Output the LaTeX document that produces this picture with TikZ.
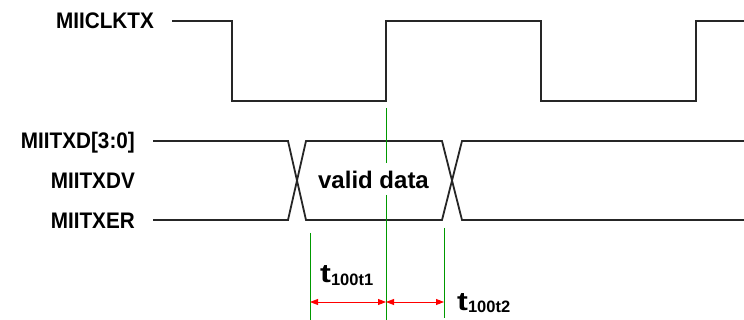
\documentclass[tikz,border=0pt]{standalone}
\usepackage{fontspec}
\setmainfont{Liberation Sans}
\usetikzlibrary{arrows.meta}
\tikzset{
  sig/.style={line width=1.8pt, draw=black!85, line join=miter},
  mark line/.style={line width=0.9pt, draw=green!60!black},
  dim/.style={line width=0.9pt, draw=red, {Triangle[length=8pt,width=6pt]}-{Triangle[length=8pt,width=6pt]}},
  siglabel/.style={anchor=base east, inner sep=0pt, font=\fontsize{22.5}{22.5}\selectfont\bfseries, text=black},
  tlabel/.style={anchor=base west, inner sep=0pt, text=black}
}
\newcommand{\lbl}[1]{\scalebox{0.92}[1]{#1}}
\newcommand{\tsub}[1]{\scalebox{1.25}[1]{\fontsize{26}{26}\selectfont\bfseries t}\raisebox{-2.5pt}{\fontsize{16.5}{16.5}\selectfont\bfseries #1}}
\begin{document}
\begin{tikzpicture}[x=1pt,y=-1pt]
\useasboundingbox (0,0) rectangle (744,320);
% labels
\node[siglabel] (clk) at (154,29) {\lbl{MIICLKTX}};
\node[siglabel] (txd) at (135,149) {\lbl{MIITXD[3:0]}};
\node[siglabel] (txdv) at (135,189) {\lbl{MIITXDV}};
\node[siglabel] (txer) at (135,228.5) {\lbl{MIITXER}};
% clock
\draw[sig] (172,21) -- (232,21) -- (232,101) -- (386,101) -- (386,21) -- (541,21) -- (541,101) -- (696,101) -- (696,21) -- (745,21);
% bus
\draw[sig] (153,141) -- (288,141) -- (306,220) -- (442,220) -- (462,141) -- (745,141);
\draw[sig] (153,220) -- (288,220) -- (306,141) -- (442,141) -- (462,220) -- (745,220);
% green markers
\draw[mark line] (386,108) -- (386,163);
\draw[mark line] (386,195) -- (386,321);
\draw[mark line] (310,233) -- (310,321);
\draw[mark line] (444,228) -- (444,318);
% data label
\node[anchor=base, inner sep=0pt, font=\fontsize{24}{24}\selectfont\bfseries, text=black] (vd) at (373.5,188.5) {valid data};
% dimension arrows
\coordinate (a1) at (310,302);
\coordinate (a2) at (386,302);
\coordinate (a3) at (444,302);
\draw[dim] (a1) -- (a2);
\draw[dim] (a2) -- (a3);
\node[tlabel] (t1) at (320,283) {\tsub{100t1}};
\node[tlabel] (t2) at (457,310) {\tsub{100t2}};
\end{tikzpicture}
\end{document}
